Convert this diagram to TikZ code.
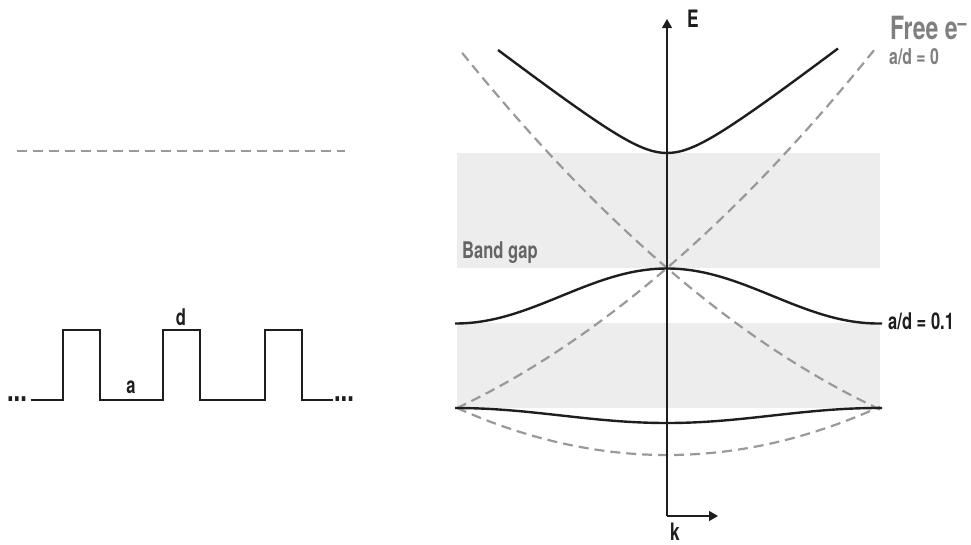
\documentclass[tikz,border=0pt]{standalone}
\usepackage{fontspec}
\setmainfont{TeX Gyre Heros}[FakeStretch=0.72]
\usetikzlibrary{arrows.meta}
\definecolor{dashgray}{HTML}{999999}
\definecolor{gapgray}{HTML}{EDEDED}
\definecolor{labgray}{HTML}{7F7F7F}
\definecolor{inkblack}{HTML}{1E1E1E}
\tikzset{
  freeline/.style={draw=dashgray, line width=2.2pt, dash pattern=on 10pt off 6pt},
  bandline/.style={draw=inkblack, line width=2.4pt},
  wave/.style={draw=inkblack, line width=2.2pt, line join=miter},
  axisline/.style={draw=inkblack, line width=1.3pt},
  gapbox/.style={fill=gapgray, draw=none},
  lab/.style={font=\bfseries\fontsize{23}{26}\selectfont, text=inkblack, inner sep=0pt},
  graylab/.style={font=\bfseries\fontsize{22}{24}\selectfont, text=labgray, inner sep=0pt},
}
\begin{document}
\begin{tikzpicture}[x=1pt,y=-1pt]
\useasboundingbox (0,0) rectangle (971,544);
% band gaps
\fill[gapbox] (457,153) rectangle (880,268);
\fill[gapbox] (457,323) rectangle (880,408);
% free electron parabolas
\draw[freeline] plot[domain=457:875, samples=80, smooth] (\x, {268 - 86.1*((\x-667)/100) - 9.24*((\x-667)/100)^2});
\draw[freeline] plot[domain=880:459, samples=80, smooth] (\x, {268 + 86.1*((\x-667)/100) - 9.24*((\x-667)/100)^2});
\draw[freeline] plot[domain=457:880, samples=80, smooth] (\x, {455 - 10.66*((\x-667)/100)^2});
% bands
\draw[bandline] plot[domain=498:838, samples=80, smooth] (\x, {183 - 10*sqrt(9 + 58.8*((\x-667)/100)^2)});
\draw[bandline] plot[domain=455:882, samples=80, smooth] (\x, {296 - 27.5*cos(0.8511*(\x-667))});
\draw[bandline] plot[domain=455:882, samples=80, smooth] (\x, {415.5 + 7.5*cos(0.8511*(\x-667))});
% axes
\coordinate (origin) at (667,516);
\coordinate (etip) at (667,19);
\coordinate (ktip) at (718,516);
\draw[axisline, -{Triangle[width=10pt,length=9pt]}] (origin) -- (etip);
\draw[axisline, -{Triangle[width=10pt,length=9pt]}] (origin) -- (ktip);
\node[lab, font=\bfseries\fontsize{24}{26}\selectfont] (elab) at (693,19) {E};
\node[lab, font=\bfseries\fontsize{24}{26}\selectfont, anchor=base] (klab) at (675,540) {k};
% labels right
\node[graylab, font=\bfseries\fontsize{32}{34}\selectfont, anchor=west] (free) at (890,28) {Free e\textsuperscript{\textendash}};
\node[graylab, anchor=west] (adzero) at (889,57) {a/d = 0};
\node[lab, anchor=west] (adone) at (888,321) {a/d = 0.1};
\node[lab, text=labgray!80!black, anchor=west] (gap) at (462,253) {Band gap};
% left panel
\draw[freeline] (17,151) -- (345,151);
\draw[wave] (31,400) -- (63,400) -- (63,330) -- (100,330) -- (100,400) -- (163,400) -- (163,330) -- (200,330) -- (200,400) -- (265,400) -- (265,330) -- (302,330) -- (302,400) -- (333,400);
\node[lab, font=\bfseries\fontsize{33}{34}\selectfont, anchor=base] (dots1) at (17,401) {...};
\node[lab, font=\bfseries\fontsize{33}{34}\selectfont, anchor=base] (dots2) at (344,401) {...};
\node[lab] (dlab) at (181,317) {d};
\node[lab] (alab) at (131,387) {a};
\end{tikzpicture}
\end{document}
